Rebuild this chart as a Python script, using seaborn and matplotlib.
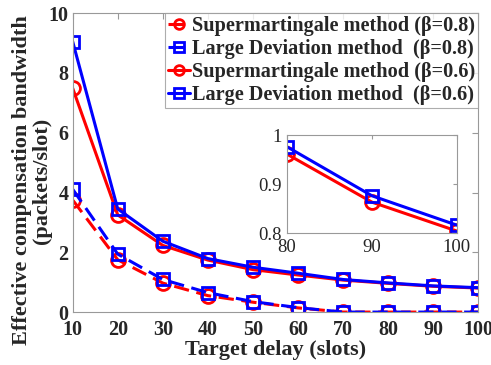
import numpy as np
import pandas as pd
import matplotlib
matplotlib.use("Agg")
import matplotlib.pyplot as plt
import seaborn as sns

# dados
delay = [10, 20, 30, 40, 50, 60, 70, 80, 90, 100]
super_08 = [3.75, 1.75, 0.97, 0.55, 0.33, 0.14, 0.0, 0.0, 0.0, 0.0]
ld_08 = [4.11, 1.94, 1.09, 0.65, 0.35, 0.15, 0.0, 0.0, 0.0, 0.0]
super_06 = [7.49, 3.25, 2.23, 1.74, 1.42, 1.24, 1.07, 0.961, 0.863, 0.804]
ld_06 = [9.05, 3.45, 2.37, 1.79, 1.50, 1.30, 1.09, 0.976, 0.876, 0.816]

labels = ["Supermartingale method (β=0.8)", "Large Deviation method  (β=0.8)",
          "Supermartingale method (β=0.6)", "Large Deviation method  (β=0.6)"]
series = [super_08, ld_08, super_06, ld_06]
cores = ["#ff0000", "#0000ff", "#ff0000", "#0000ff"]
marcadores = ["o", "s", "o", "s"]
estilos = [(0, (5, 2.5)), (0, (5, 2.5)), "-", "-"]

sns.set_style("white")
plt.rcParams['font.family'] = ['Liberation Serif', 'DejaVu Serif']

fig = plt.figure(figsize=(4.91, 3.65), dpi=100)
ax = fig.add_axes([0.148, 0.145, 0.826, 0.819])


def desenhar(eixo, x, com_label=True):
    for ys, lab, c, m, ls in zip(series, labels, cores, marcadores, estilos):
        df = pd.DataFrame({'x': x, 'y': [ys[delay.index(v)] for v in x]})
        sns.lineplot(data=df, x='x', y='y', ax=eixo, color=c, linestyle=ls,
                     linewidth=2.2, marker=m, markersize=10 if m == 'o' else 8.5,
                     markerfacecolor='none', markeredgecolor=c,
                     markeredgewidth=2.0, label=lab if com_label else None,
                     legend=False)


desenhar(ax, delay)

ax.set_xlim(10, 100)
ax.set_ylim(0, 10)
ax.set_xticks(delay)
ax.set_yticks([0, 2, 4, 6, 8, 10])
ax.tick_params(direction='in', length=4, color='#999999', labelsize=14.5,
               top=True, right=True, pad=3)
ax.tick_params(axis='x', pad=6)
for lab in ax.get_xticklabels() + ax.get_yticklabels():
    lab.set_fontweight('bold')
for s in ax.spines.values():
    s.set_color('#999999')
    s.set_linewidth(0.8)
ax.set_xlabel('Target delay (slots)', fontsize=16, fontweight='bold', labelpad=0)
ax.set_ylabel('Effective compensation bandwidth\n(packets/slot)', fontsize=16,
              fontweight='bold', linespacing=1.0)
ax.yaxis.set_label_coords(-0.05, 0.44)

leg = ax.legend(loc='upper right', frameon=True, fancybox=False,
                edgecolor='#999999', borderpad=0.15, labelspacing=0.15,
                handlelength=1.1, handletextpad=0.1, borderaxespad=0.0,
                prop={'family': ['Liberation Serif'], 'weight': 'bold', 'size': 14.6})
leg.get_frame().set_linewidth(0.8)
for h in leg.legend_handles:
    h.set_markersize(7)

# inset
axin = fig.add_axes([0.5845, 0.3616, 0.346, 0.2685])
desenhar(axin, [80, 90, 100], com_label=False)
axin.set_xlim(80, 100)
axin.set_ylim(0.8, 1.0)
axin.set_xticks([80, 90, 100])
axin.set_yticks([0.8, 0.9, 1.0])
axin.set_yticklabels(['0.8', '0.9', '1'])
axin.set_xlabel('')
axin.set_ylabel('')
axin.tick_params(direction='in', length=3, color='#999999', labelsize=13.5,
                 top=True, right=True, pad=4)
for s in axin.spines.values():
    s.set_color('#999999')
    s.set_linewidth(0.8)

fig.savefig('out.png', dpi=100)
